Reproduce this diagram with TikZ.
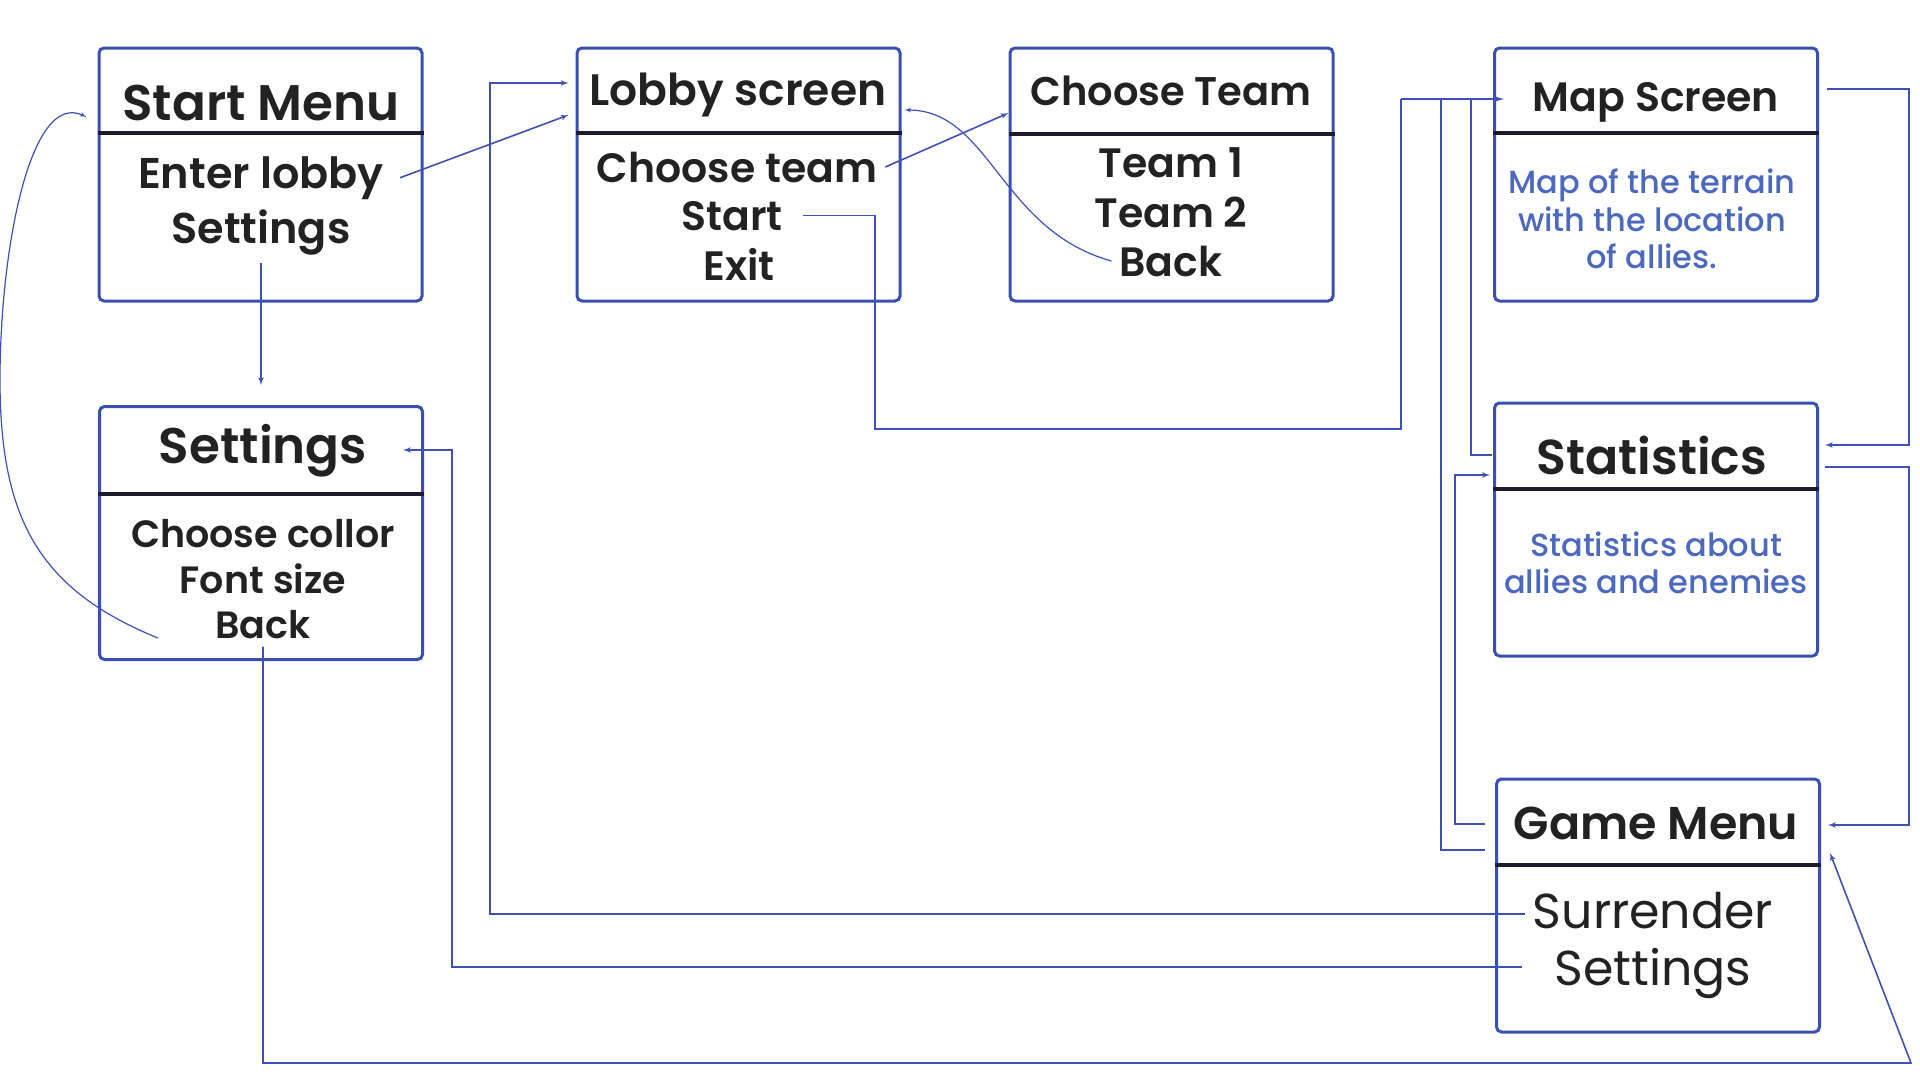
\documentclass[tikz,border=0pt]{standalone}
\usepackage{fontspec}
\setmainfont{Poppins SemiBold}
\newfontfamily\regfont{Poppins}
\newfontfamily\medfont{Poppins Medium}
\usetikzlibrary{arrows}
\definecolor{frame}{HTML}{3A50B0}
\definecolor{wire}{HTML}{3F51B5}
\definecolor{note}{HTML}{4D69BE}
\definecolor{ink}{HTML}{222222}
\definecolor{rule}{HTML}{1E1B2E}

\begin{document}
\begin{tikzpicture}
			[x=1pt,y=-1pt,
			box/.style={draw=frame,line width=3pt,rounded corners=5pt,minimum width=323pt,minimum height=253pt,inner sep=0pt},
			bar/.style={draw=rule,line width=3.5pt},
			title/.style={anchor=base,text=ink,inner sep=8pt,font=\fontsize{#1}{#1}\selectfont},
			title/.default=44,
			item/.style={anchor=base,text=ink,inner sep=8pt,font=\fontsize{#1}{#1}\selectfont},
			item/.default=41,
			info/.style={anchor=base,text=note,font=\medfont\fontsize{32}{32}\selectfont},
			wire/.style={draw=wire,line width=1.6pt},
			edge/.style={->,> = latex',draw=wire,line width=1.6pt}]
			\fill[white] (0,0) rectangle (1920,1080);
			\useasboundingbox (0,0) rectangle (1920,1080);
			
			\node[box] (start) at (260.5,174.5) {};
			\node[box] (lobby) at (738.5,174.5) {};
			\node[box] (team) at (1171.5,174.5) {};
			\node[box] (map) at (1656,174.5) {};
			\node[box] (sett) at (261,533) {};
			\node[box] (stat) at (1656,529.5) {};
			\node[box] (game) at (1658,905.5) {};
			
			\draw[bar] ([yshift=41.5pt]start.west) -- ([yshift=41.5pt]start.east);
			\draw[bar] ([yshift=41.5pt]lobby.west) -- ([yshift=41.5pt]lobby.east);
			\draw[bar] ([yshift=40.5pt]team.west) -- ([yshift=40.5pt]team.east);
			\draw[bar] ([yshift=41.5pt]map.west) -- ([yshift=41.5pt]map.east);
			\draw[bar] ([yshift=39pt]sett.west) -- ([yshift=39pt]sett.east);
			\draw[bar] ([yshift=40.5pt]stat.west) -- ([yshift=40.5pt]stat.east);
			\draw[bar] ([yshift=40.5pt]game.west) -- ([yshift=40.5pt]game.east);
			
			\node[title=50] (t0) at (261,120) {Start Menu};
			\node[item=43] (t0a) at (261,188) {Enter lobby};
			\node[item=43] (t0b) at (261,243) {Settings};
			
			\node[title=44] (t1) at (738,105) {Lobby screen};
			\node[item=41] (t1a) at (737,182) {Choose team};
			\node[item=41] (t1b) at (732,230) {Start};
			\node[item=41] (t1c) at (739,280) {Exit};
			
			\node[title=40] (t2) at (1171,105) {Choose Team};
			\node[item] (t2a) at (1171,177) {Team 1};
			\node[item] (t2b) at (1171,227) {Team 2};
			\node[item] (t2c) at (1171,276) {Back};
			
			\node[title=41] (t3) at (1656,111) {Map Screen};
			\node[info] (t3a) at (1652,193) {Map of the terrain};
			\node[info] (t3b) at (1652,231) {with the location};
			\node[info] (t3c) at (1652,268) {of allies.};
			
			\node[title=50] (t4) at (263,463) {Settings};
			\node[item=38] (t4a) at (263,547) {Choose collor};
			\node[item=38] (t4b) at (263,593) {Font size};
			\node[item=38] (t4c) at (263,638) {Back};
			
			\node[title=49] (t5) at (1652,474) {Statistics};
			\node[info] (t5a) at (1656,556) {Statistics about};
			\node[info] (t5b) at (1656,593) {allies and enemies};
			
			\node[title=46] (t6) at (1656,839) {Game Menu};
			\node[item=49,font=\regfont\fontsize{49}{49}\selectfont] (t6a) at (1653,928) {Surrender};
			\node[item=49,font=\regfont\fontsize{49}{49}\selectfont] (t6b) at (1653,985) {Settings};
			
			\coordinate (hub) at (1401,99);
			
			\draw[edge] ([xshift=8pt]t0a.east) -- ([xshift=-7pt,yshift=59.5pt]lobby.west);
			\draw[edge] (t0b.south) -- ([yshift=20pt]sett.north);
			\draw[edge,line width=1.2pt] ([xshift=-49pt,yshift=-14pt]t4c.west) .. controls (40,590) and (0,520) .. (0,380) .. controls (0,250) and (30,90) .. ([xshift=-11pt,yshift=57.5pt]start.west);
			\draw[edge] (t1a.east) -- ([yshift=61.5pt]team.west);
			\draw[edge,line width=1.2pt] (t2c.west) .. controls (1000,230) and (990,110) .. ([xshift=3pt,yshift=64.5pt]lobby.east);
			\draw[wire] ([xshift=12pt]t1b.east) -- ++(72,0) |- (1401,429) -- (hub);
			\draw[edge,line width=2.6pt] (hub) -- ([xshift=11pt,yshift=75.5pt]map.west);
			\draw[edge] ([xshift=8pt,yshift=85.5pt]map.east) -- ++(82,0) |- ([xshift=6pt,yshift=84.5pt]stat.east);
			\draw[edge] ([xshift=6pt,yshift=62.5pt]stat.east) -- ++(84,0) |- ([xshift=7pt,yshift=80.5pt]game.east);
			\draw[wire] ([xshift=-1pt,yshift=74.5pt]stat.west) -- ++(-21,0) |- (hub);
			\draw[wire] ([xshift=-10pt,yshift=55.5pt]game.west) -- ++(-44,0) |- (hub);
			\draw[edge] ([xshift=-10pt,yshift=81.5pt]game.west) -- ++(-30,0) |- ([xshift=-3pt,yshift=54.5pt]stat.west);
			\draw[edge] ([yshift=-4pt]t6a.west) -| (490,83) -- ([xshift=-7pt,yshift=91.5pt]lobby.west);
			\draw[edge] ([xshift=-24pt,yshift=6pt]t6b.west) -| (452,450) -- ([xshift=-21pt,yshift=83pt]sett.east);
			\draw[edge] (t4c.south) |- (1911,1063) -- ([xshift=9pt,yshift=52.5pt]game.east);
			\end{tikzpicture}
\end{document}
